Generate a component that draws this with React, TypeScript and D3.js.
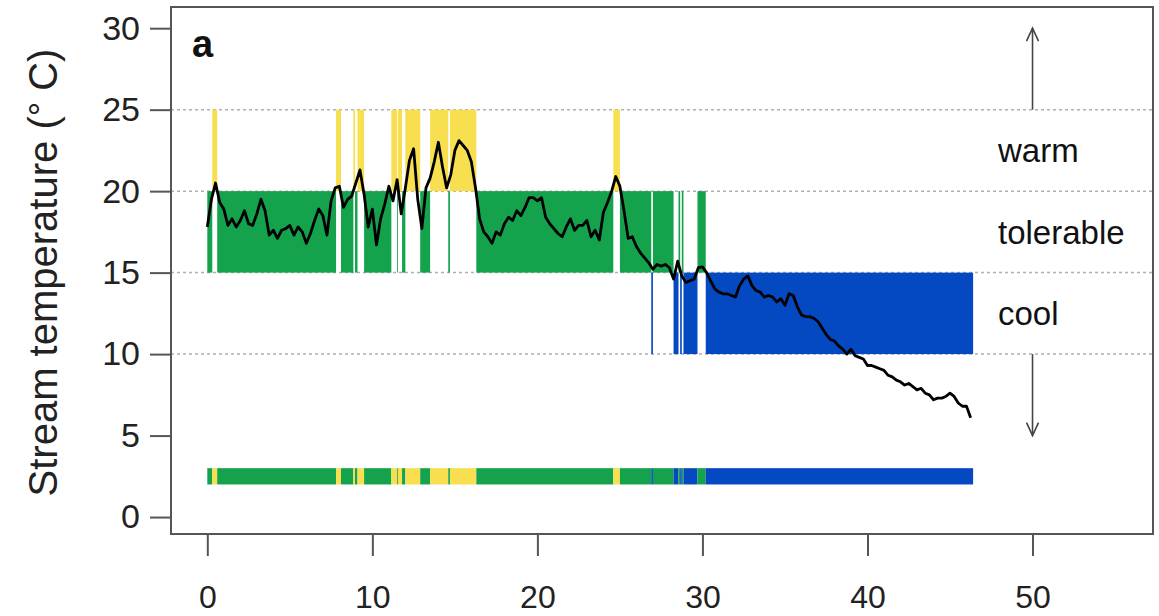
import React, { useEffect, useRef } from 'react';
import * as d3 from 'd3';

// stream temperature, one reading every 0.25 on the x axis, starting at 0
const tempStep = 0.25;
const tempValues = [
  17.8, 19.5, 20.5, 19.3, 18.9, 17.9, 18.3, 17.8, 18.2, 18.8, 18.0, 17.9, 18.6, 19.5, 18.8, 17.3, 17.6, 17.1, 17.6, 17.7,
  17.9, 17.3, 17.8, 17.5, 16.8, 17.4, 18.2, 18.9, 18.5, 17.3, 19.4, 20.2, 20.3, 19.0, 19.5, 19.7, 20.5, 21.3, 19.8, 17.8,
  18.9, 16.7, 18.3, 19.2, 20.3, 19.4, 20.7, 18.6, 20.2, 21.9, 22.6, 19.5, 17.7, 20.2, 20.8, 21.8, 23.0, 21.5, 20.2, 21.0,
  22.5, 23.1, 22.8, 22.5, 21.8, 20.2, 18.3, 17.5, 17.2, 16.8, 17.5, 17.3, 18.0, 18.4, 18.2, 18.8, 18.5, 19.0, 19.6, 19.6,
  19.4, 19.6, 18.4, 18.0, 17.7, 17.4, 17.2, 17.8, 18.3, 17.6, 17.9, 17.9, 18.2, 17.2, 17.6, 17.0, 18.7, 19.3, 20.0, 20.9,
  20.3, 18.8, 17.1, 17.2, 16.6, 16.2, 15.9, 15.6, 15.2, 15.5, 15.4, 15.5, 15.3, 14.6, 15.7, 14.8, 14.4, 14.5, 14.6, 15.3,
  15.35, 15.0, 14.5, 14.0, 13.8, 13.7, 13.7, 13.6, 13.5, 14.2, 14.6, 14.8, 14.2, 13.9, 13.8, 13.5, 13.6, 13.5, 13.2, 13.4,
  13.0, 13.7, 13.6, 12.9, 12.4, 12.3, 12.3, 12.2, 12.0, 11.6, 11.2, 10.9, 10.8, 10.5, 10.3, 10.0, 10.3, 9.9, 9.8, 9.7,
  9.3, 9.3, 9.2, 9.1, 9.0, 8.7, 8.6, 8.4, 8.3, 8.1, 8.2, 8.0, 7.8, 7.9, 7.6, 7.5, 7.2, 7.3, 7.3, 7.4,
  7.6, 7.4, 7.0, 6.8, 6.8, 6.1,
];

// classified periods: start of each period + its zone (W warm, T tolerable, C cool)
const zoneStarts = [
  0, 0.3, 0.6, 7.8, 8.1, 8.85, 8.95, 9.1, 9.5, 11.15, 11.5, 11.55, 11.8, 12.0, 12.9, 13.5,
  14.6, 14.7, 16.3, 24.6, 25.0, 26.9, 27.0, 28.25, 28.55, 28.65, 28.75, 28.85, 29.7, 30.2,
];
const zoneKinds = [
  'T', 'W', 'T', 'W', 'T', 'W', 'T', 'W', 'T', 'W', 'T', 'W', 'T', 'W', 'T', 'W',
  'T', 'W', 'T', 'W', 'T', 'C', 'T', 'C', 'T', 'C', 'T', 'C', 'T', 'C',
];
const zoneEndLast = 46.4;

// zone bands (lower, upper limit) + label
const zoneNames = ['W', 'T', 'C'];
const zoneLow = [20, 15, 10];
const zoneHigh = [25, 20, 15];
const zoneLabels = ['warm', 'tolerable', 'cool'];

const yTicks = [0, 5, 10, 15, 20, 25, 30];
const xTicks = [0, 10, 20, 30, 40, 50];
const gridLines = [10, 15, 20, 25];
const stripLow = 2;
const stripHigh = 3;

const zoneColor: Record<string, string> = { W: '#f8df4f', T: '#15a24c', C: '#0449c2' };

const W = 1159;
const H = 616;
const FONT = '"Liberation Sans", Arial, Helvetica, sans-serif';

const TempChart: React.FC = () => {
  const svgRef = useRef<SVGSVGElement>(null);

  useEffect(() => {
    const svg = d3.select(svgRef.current);
    svg.selectAll('*').remove();

    // plot box (R style, axes extended 4%)
    const box = { left: 171, right: 1153, top: 7, bottom: 534 };
    const x = d3.scaleLinear().domain([-2.2, 57.3]).range([box.left, box.right]);
    const y = d3.scaleLinear().domain([-1.04, 31.3]).range([box.bottom, box.top]);

    const pts = tempValues.map((v, i) => ({ t: i * tempStep, v }));
    const segs = zoneStarts.map((s, i) => ({
      start: s,
      end: i < zoneStarts.length - 1 ? zoneStarts[i + 1] : zoneEndLast,
      kind: zoneKinds[i],
    }));

    // grid
    svg.append('g')
      .selectAll('line')
      .data(gridLines)
      .join('line')
      .attr('x1', box.left)
      .attr('x2', box.right)
      .attr('y1', d => y(d))
      .attr('y2', d => y(d))
      .attr('stroke', '#b0b0b0')
      .attr('stroke-width', 1.5)
      .attr('stroke-dasharray', '3,3');

    // zone bars in the bands
    svg.append('g')
      .selectAll('rect')
      .data(segs)
      .join('rect')
      .attr('x', d => x(d.start))
      .attr('width', d => x(d.end) - x(d.start))
      .attr('y', d => y(zoneHigh[zoneNames.indexOf(d.kind)]))
      .attr('height', d => y(zoneLow[zoneNames.indexOf(d.kind)]) - y(zoneHigh[zoneNames.indexOf(d.kind)]))
      .attr('fill', d => zoneColor[d.kind]);

    // strip at the bottom
    svg.append('g')
      .selectAll('rect')
      .data(segs)
      .join('rect')
      .attr('x', d => x(d.start))
      .attr('width', d => x(d.end) - x(d.start))
      .attr('y', y(stripHigh))
      .attr('height', y(stripLow) - y(stripHigh))
      .attr('fill', d => zoneColor[d.kind]);

    // temperature line
    const line = d3.line<{ t: number; v: number }>()
      .x(d => x(d.t))
      .y(d => y(d.v));
    svg.append('path')
      .datum(pts)
      .attr('d', line)
      .attr('fill', 'none')
      .attr('stroke', '#000')
      .attr('stroke-width', 2.8)
      .attr('stroke-linejoin', 'round');

    // arrows beside the bands
    const arrows = [
      { from: 25, to: 30 },
      { from: 10, to: 5 },
    ];
    const ax = x(50);
    arrows.forEach(a => {
      const y0 = y(a.from);
      const y1 = y(a.to);
      const dir = y1 < y0 ? 1 : -1;
      const g = svg.append('g').attr('stroke', '#444').attr('stroke-width', 1.6).attr('fill', 'none');
      g.append('line').attr('x1', ax).attr('x2', ax).attr('y1', y0).attr('y2', y1);
      g.append('path').attr('d', `M${ax - 6},${y1 + dir * 13}L${ax},${y1}L${ax + 6},${y1 + dir * 13}`);
    });

    // zone labels
    svg.append('g')
      .selectAll('text')
      .data(zoneLabels)
      .join('text')
      .attr('x', 998)
      .attr('y', (d, i) => y((zoneLow[i] + zoneHigh[i]) / 2) + 12)
      .attr('font-family', FONT)
      .attr('font-size', 33)
      .attr('fill', '#111')
      .text(d => d);

    // box
    svg.append('rect')
      .attr('x', box.left)
      .attr('y', box.top)
      .attr('width', box.right - box.left)
      .attr('height', box.bottom - box.top)
      .attr('fill', 'none')
      .attr('stroke', '#555')
      .attr('stroke-width', 2);

    // y axis
    const gy = svg.append('g').attr('transform', `translate(${box.left},0)`);
    gy.call(d3.axisLeft(y).tickValues(yTicks).tickSize(21).tickPadding(10).tickFormat(d3.format('d')));
    gy.select('.domain').remove();
    gy.selectAll('line').attr('stroke', '#555').attr('stroke-width', 2);
    gy.selectAll('text').attr('font-family', FONT).attr('font-size', 34).attr('fill', '#222');

    // x axis
    const gx = svg.append('g').attr('transform', `translate(0,${box.bottom})`);
    gx.call(d3.axisBottom(x).tickValues(xTicks).tickSize(22).tickPadding(29).tickFormat(d3.format('d')));
    gx.select('.domain').remove();
    gx.selectAll('line').attr('stroke', '#555').attr('stroke-width', 2);
    gx.selectAll('text').attr('font-family', FONT).attr('font-size', 32).attr('fill', '#222');

    // y label
    const ylab = svg.append('text')
      .attr('transform', `translate(57,${(box.top + box.bottom) / 2 + 2}) rotate(-90)`)
      .attr('text-anchor', 'middle')
      .attr('font-family', FONT)
      .attr('font-size', 40)
      .attr('fill', '#222');
    ylab.append('tspan').text('Stream temperature  (');
    ylab.append('tspan').attr('font-size', 36).attr('dy', -2).text('°');
    ylab.append('tspan').attr('dy', 2).text(' C)');

    // panel letter
    svg.append('text')
      .attr('x', 192)
      .attr('y', 57)
      .attr('font-family', FONT)
      .attr('font-size', 38)
      .attr('font-weight', 'bold')
      .attr('fill', '#111')
      .text('a');
  }, []);

  return <svg ref={svgRef} width={W} height={H} style={{ position: 'absolute', left: 0, top: 0, background: '#fff' }} />;
};

export default function App() {
  return <TempChart />;
}
